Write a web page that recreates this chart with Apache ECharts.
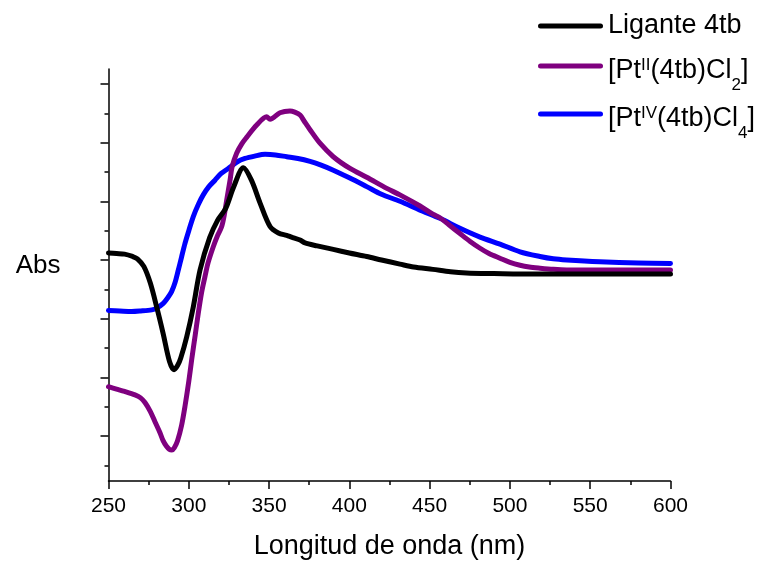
<!DOCTYPE html>
<html>
<head>
<meta charset="utf-8">
<script src="https://cdn.jsdelivr.net/npm/echarts@6/dist/echarts.min.js"></script>
<style>
  html, body { margin: 0; padding: 0; background: #fff; }
  #chart { width: 761px; height: 561px; }
</style>
</head>
<body>
<div id="chart"></div>
<script>
// UV-Vis spectra: wavelength (nm) vs absorbance (arbitrary units)
const ligandNm  = [250, 255, 260, 265, 268, 272, 276, 280, 284, 288, 290.8, 293, 295, 298.7, 302.8, 307, 313, 318, 323, 328, 334, 339, 344.4, 350.6, 355.8, 361, 364, 369.3, 372.4, 380, 390, 400, 410.8, 420, 431.5, 440, 452, 463, 473, 490, 515, 556, 600];
const ligandAbs = [3.12, 3.11, 3.10, 3.06, 3.02, 2.89, 2.61, 2.20, 1.75, 1.27, 1.13, 1.20, 1.33, 1.69, 2.20, 2.83, 3.38, 3.68, 3.88, 4.25, 4.57, 4.36, 3.97, 3.57, 3.46, 3.42, 3.39, 3.34, 3.29, 3.24, 3.18, 3.12, 3.06, 3.00, 2.93, 2.88, 2.84, 2.80, 2.78, 2.77, 2.76, 2.76, 2.76];

const pt2Nm  = [250, 255, 260, 266.5, 270, 272.7, 276, 279, 282, 284, 286, 288, 289.5, 291, 293, 295.5, 297.6, 300, 301.8, 304, 305.9, 308, 310.1, 312, 315.3, 318, 320.5, 322, 323.6, 325.7, 327, 329.8, 333, 336, 342.3, 348.5, 350.6, 356.8, 363, 366, 369.3, 372, 375.5, 381.7, 390, 400.4, 410.8, 423.3, 431.5, 444, 452, 456.4, 462, 468.9, 475, 481.4, 487, 493.8, 500, 506.3, 512, 518.7, 527, 535.4, 560, 600];
const pt2Abs = [0.84, 0.80, 0.76, 0.70, 0.65, 0.57, 0.42, 0.24, 0.06, -0.08, -0.17, -0.23, -0.24, -0.20, -0.08, 0.18, 0.50, 0.93, 1.30, 1.72, 2.09, 2.45, 2.72, 2.95, 3.23, 3.42, 3.57, 3.75, 4.02, 4.36, 4.59, 4.82, 4.98, 5.09, 5.30, 5.44, 5.40, 5.51, 5.54, 5.52, 5.47, 5.36, 5.22, 4.99, 4.76, 4.56, 4.41, 4.22, 4.11, 3.92, 3.78, 3.72, 3.60, 3.45, 3.32, 3.20, 3.11, 3.03, 2.96, 2.91, 2.88, 2.86, 2.84, 2.83, 2.83, 2.83];

const pt4Nm  = [250, 257, 264.4, 270, 276.9, 280, 284.1, 287, 289.3, 291.5, 293.5, 295.5, 297.6, 300, 302.8, 306, 309, 312.5, 316.3, 320, 324.6, 330, 335, 341, 347.5, 354, 361, 368, 375.5, 382, 390, 400, 410.8, 420, 431.5, 444, 456.4, 468.9, 481.4, 493.8, 506.3, 518.7, 527, 535.4, 556, 580, 600];
const pt4Abs = [2.14, 2.13, 2.12, 2.13, 2.15, 2.18, 2.26, 2.36, 2.46, 2.62, 2.83, 3.05, 3.28, 3.50, 3.74, 3.95, 4.11, 4.25, 4.36, 4.47, 4.56, 4.67, 4.73, 4.77, 4.80, 4.79, 4.76, 4.73, 4.68, 4.62, 4.53, 4.40, 4.25, 4.12, 4.00, 3.85, 3.71, 3.54, 3.39, 3.27, 3.14, 3.06, 3.02, 3.00, 2.97, 2.95, 2.94];

const seriesNames = ['Ligante 4tb', '[Pt(II)(4tb)Cl2]', '[Pt(IV)(4tb)Cl4]'];
const seriesColors = ['#000000', '#7f007f', '#0000ff'];

const xTicks = { min: 250, max: 600, step: 50 };
const yMajorTicks = [0, 1, 2, 3, 4, 5, 6];
const yMinorTicks = [-0.5, 0.5, 1.5, 2.5, 3.5, 4.5, 5.5];
const yRange = { min: -0.767, max: 6.255 };

const FONT = '"Liberation Sans", Arial, sans-serif';
// rounded bar used as the legend key
const LEGEND_KEY = 'path://M2.5,0 H62.5 A2.5,2.5 0 0 1 62.5,5 H2.5 A2.5,2.5 0 0 1 2.5,0 Z';

function zip(xs, ys) { return xs.map((x, i) => [x, ys[i]]); }

const chart = echarts.init(document.getElementById('chart'), null, { renderer: 'canvas' });

const mainTxt = { fontFamily: FONT, fontSize: 27, color: '#000', lineHeight: 50, height: 41, verticalAlign: 'bottom' };
const supTxt  = { fontFamily: FONT, fontSize: 17, color: '#000', lineHeight: 50, height: 48, verticalAlign: 'top' };
const subTxt  = { fontFamily: FONT, fontSize: 17, color: '#000', lineHeight: 50, height: 12, verticalAlign: 'bottom' };

function legendFor(name, color, top, rich) {
  return {
    show: true,
    data: [{ name: name, icon: LEGEND_KEY, itemStyle: { color: color } }],
    left: 538,
    top: top,
    padding: 0,
    itemWidth: 65,
    itemHeight: 5,
    selectedMode: false,
    textStyle: rich
      ? { fontFamily: FONT, fontSize: 27, color: '#000', lineHeight: 50, rich: rich }
      : { fontFamily: FONT, fontSize: 27, color: '#000', lineHeight: 30 },
    formatter: function (n) {
      if (n === seriesNames[1]) return '{n|[Pt}{sup|II}{n|(4tb)Cl}{sub|2}{n|]}';
      if (n === seriesNames[2]) return '{n|[Pt}{sup|IV}{n|(4tb)Cl}{sub|4}{n|]}';
      return n;
    }
  };
}

const richSet = { n: mainTxt, sup: supTxt, sub: subTxt };

const option = {
  backgroundColor: '#ffffff',
  animation: false,
  textStyle: { fontFamily: FONT },
  grid: { left: 108.5, right: 90.5, top: 69, bottom: 80, containLabel: false, outerBoundsMode: 'none' },
  legend: [
    legendFor(seriesNames[0], seriesColors[0], 11, null),
    legendFor(seriesNames[1], seriesColors[1], 41, richSet),
    legendFor(seriesNames[2], seriesColors[2], 89, richSet)
  ],
  xAxis: {
    type: 'value',
    min: xTicks.min,
    max: xTicks.max,
    interval: xTicks.step,
    name: 'Longitud de onda (nm)',
    nameLocation: 'middle',
    nameGap: 52,
    nameTextStyle: { fontFamily: FONT, fontSize: 27, color: '#000' },
    axisLine: { show: true, onZero: false, lineStyle: { color: '#000', width: 1.5 } },
    axisTick: { show: true, inside: false, length: 8, lineStyle: { color: '#000', width: 1.5 } },
    minorTick: { show: true, splitNumber: 2, length: 4, lineStyle: { color: '#000', width: 1.5 } },
    axisLabel: { fontFamily: FONT, fontSize: 21, color: '#000', margin: 15 },
    splitLine: { show: false },
    minorSplitLine: { show: false }
  },
  yAxis: [
    {
      type: 'value',
      min: yRange.min,
      max: yRange.max,
      position: 'left',
      name: '{a|Abs}',
      nameLocation: 'middle',
      nameRotate: 0,
      nameGap: 48,
      nameTextStyle: {
        fontFamily: FONT, fontSize: 26, color: '#000',
        align: 'right', verticalAlign: 'middle',
        rich: { a: { fontFamily: FONT, fontSize: 26, color: '#000', lineHeight: 48, height: 29, verticalAlign: 'top' } }
      },
      axisLine: { show: true, onZero: false, lineStyle: { color: '#000', width: 1.5 } },
      axisTick: { show: true, inside: false, length: 8, customValues: yMajorTicks, lineStyle: { color: '#000', width: 1.5 } },
      axisLabel: { show: false },
      splitLine: { show: false }
    },
    {
      type: 'value',
      min: yRange.min,
      max: yRange.max,
      position: 'left',
      axisLine: { show: false, onZero: false },
      axisTick: { show: true, inside: false, length: 4, customValues: yMinorTicks, lineStyle: { color: '#000', width: 1.5 } },
      axisLabel: { show: false },
      splitLine: { show: false }
    }
  ],
  series: [
    { name: seriesNames[0], data: zip(ligandNm, ligandAbs) },
    { name: seriesNames[1], data: zip(pt2Nm, pt2Abs) },
    { name: seriesNames[2], data: zip(pt4Nm, pt4Abs) }
  ].map((s, i) => ({
    type: 'line',
    name: s.name,
    data: s.data,
    yAxisIndex: 0,
    showSymbol: false,
    symbol: 'none',
    smooth: 0.3,
    color: seriesColors[i],
    lineStyle: { color: seriesColors[i], width: 5, cap: 'round', join: 'round' },
    z: i === 0 ? 4 : (i === 1 ? 3 : 2)
  }))
};

chart.setOption(option);
</script>
</body>
</html>
